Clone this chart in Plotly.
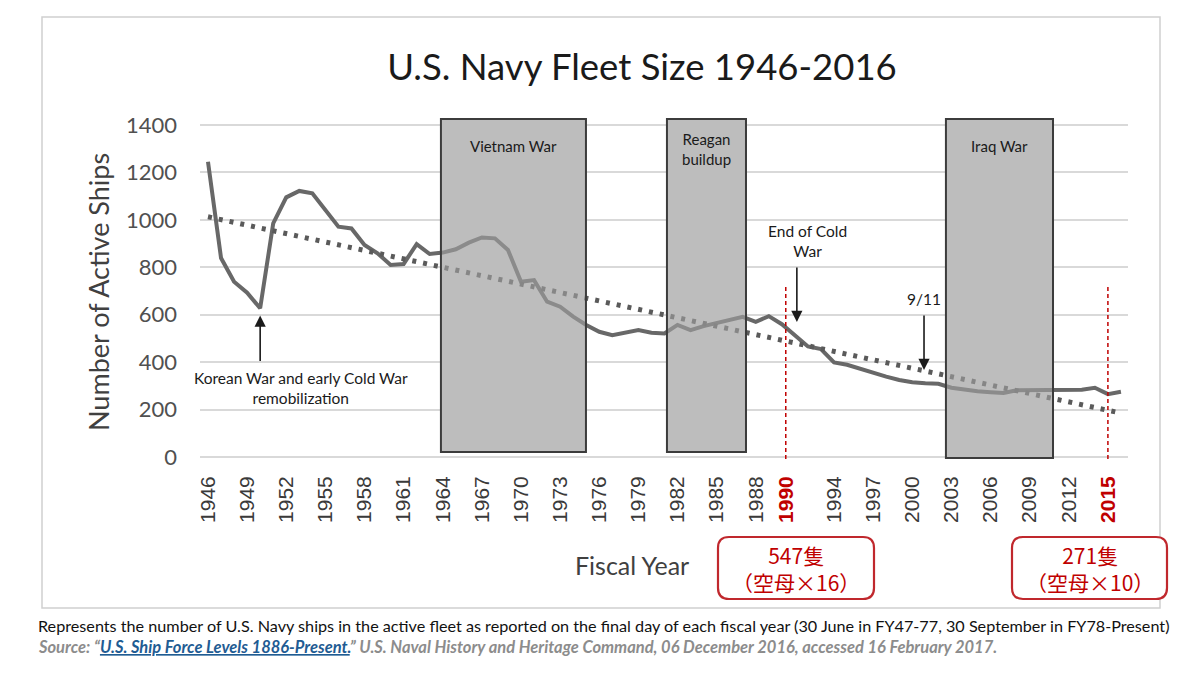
import plotly.graph_objects as go

# ---------------- data ----------------
years = list(range(1946, 2017))
ships = [1245, 839, 739, 693, 627, 985, 1095, 1122, 1112, 1042,
         971, 964, 894, 859, 810, 814, 898, 856, 862, 876,
         904, 926, 922, 873, 739, 746, 655, 634, 592, 557,
         528, 514, 524, 535, 524, 521, 557, 535, 552, 566,
         577, 591, 570, 594, 560, 515, 466, 455, 399, 389,
         371, 353, 339, 325, 315, 311, 309, 292, 284, 277,
         273, 270, 281, 281, 281, 281, 281, 284, 292, 265,
         275]
trend_years = [1946, 2016]
trend_ships = [1013, 185]

tick_years = [1946, 1949, 1952, 1955, 1958, 1961, 1964, 1967, 1970, 1973,
              1976, 1979, 1982, 1985, 1988, 1990.3, 1994, 1997, 2000, 2003,
              2006, 2009, 2012, 2015]
tick_labels = ["1946", "1949", "1952", "1955", "1958", "1961", "1964", "1967",
               "1970", "1973", "1976", "1979", "1982", "1985", "1988", "1990",
               "1994", "1997", "2000", "2003", "2006", "2009", "2012", "2015"]
red_labels = ["1990", "2015"]
red_years = [1990.3, 2015]

period_names = ["Vietnam War", "Reagan<br>buildup", "Iraq War"]
period_start = [1963.86, 1981.19, 2002.58]
period_end = [1974.98, 1987.25, 2010.79]

callout_texts = ["547隻<br>（空母×16）", "271隻<br>（空母×10）"]

# ---------------- layout helpers ----------------
W, H = 1200, 675
ML, MR, MT, MB = 200, 72, 116, 216
PW, PH = W - ML - MR, H - MT - MB


def px_x(px):
    return (px - ML) / PW


def px_y(py):
    return (H - MB - py) / PH


def rounded_path(x0, y0, x1, y1, r):
    X0, X1 = px_x(x0), px_x(x1)
    Y0, Y1 = px_y(y0), px_y(y1)  # Y0 top, Y1 bottom
    rx, ry = r / PW, r / PH
    return (f"M {X0+rx},{Y0} L {X1-rx},{Y0} Q {X1},{Y0} {X1},{Y0-ry} "
            f"L {X1},{Y1+ry} Q {X1},{Y1} {X1-rx},{Y1} "
            f"L {X0+rx},{Y1} Q {X0},{Y1} {X0},{Y1+ry} "
            f"L {X0},{Y0-ry} Q {X0},{Y0} {X0+rx},{Y0} Z")


LINE = "#686868"
RED = "#c00000"
FONT = "Lato"

fig = go.Figure()

fig.add_trace(go.Scatter(x=years, y=ships, mode="lines",
                         line=dict(color=LINE, width=4), hoverinfo="skip",
                         showlegend=False))
fig.add_trace(go.Scatter(x=trend_years, y=trend_ships, mode="lines",
                         line=dict(color="#5a5a5a", width=5, dash="4px,7px"),
                         hoverinfo="skip", showlegend=False))

shapes = []
shapes.append(dict(type="rect", xref="paper", yref="paper",
                   x0=px_x(42), x1=px_x(1160), y0=px_y(608), y1=px_y(17),
                   line=dict(color="#d0d0d0", width=1.5), layer="below"))

annotations = []
for name, s, e in zip(period_names, period_start, period_end):
    bottom = -4 if name == "Iraq War" else 21
    shapes.append(dict(type="rect", xref="x", yref="y", x0=s, x1=e,
                       y0=bottom, y1=1425, fillcolor="white",
                       line=dict(width=0), layer="between"))
    shapes.append(dict(type="rect", xref="x", yref="y", x0=s, x1=e,
                       y0=bottom, y1=1425, fillcolor="rgba(156,156,156,0.67)",
                       line=dict(color="#3c3c3c", width=2), layer="above"))
    ty = 1299 if "<br>" in name else 1311
    annotations.append(dict(x=(s + e) / 2, y=ty, xref="x", yref="y",
                            xanchor="center", yanchor="middle",
                            text=name, showarrow=False,
                            font=dict(family=FONT, size=15, color="#1a1a1a")))

for rx in red_years:
    shapes.append(dict(type="line", xref="x", yref="y", x0=rx, x1=rx,
                       y0=-8, y1=725,
                       line=dict(color=RED, width=1.5, dash="4px,3px"),
                       layer="above"))

for (x0, x1) in [(718, 874), (1012, 1167)]:
    shapes.append(dict(type="path", xref="paper", yref="paper",
                       path=rounded_path(x0, 537, x1, 599, 11),
                       line=dict(color="#c0282d", width=2.2),
                       fillcolor="white", layer="above"))
for txt, cx in zip(callout_texts, [796, 1090]):
    annotations.append(dict(x=px_x(cx), y=px_y(568), xref="paper", yref="paper",
                            xanchor="center", yanchor="middle",
                            text=txt, showarrow=False, align="center",
                            font=dict(family="Noto Sans CJK JP", size=21,
                                      color=RED)))

arrow_font = dict(family=FONT, size=15.5, color="#1a1a1a")
annotations.append(dict(x=1950, y=597, xref="x", yref="y", text="",
                        showarrow=True, ax=0, ay=47, arrowhead=2,
                        arrowsize=1.4, arrowwidth=1.6, arrowcolor="#1a1a1a"))
annotations.append(dict(x=1953.1, y=289, xref="x", yref="y",
                        xanchor="center", yanchor="middle",
                        text="Korean War and early Cold War<br>remobilization",
                        showarrow=False, font=arrow_font, align="center"))
annotations.append(dict(x=1991.15, y=569, xref="x", yref="y", text="",
                        showarrow=True, ax=0, ay=-56, arrowhead=2,
                        arrowsize=1.4, arrowwidth=1.6, arrowcolor="#1a1a1a"))
annotations.append(dict(x=1992.0, y=913, xref="x", yref="y",
                        xanchor="center", yanchor="middle",
                        text="End of Cold<br>War", showarrow=False,
                        font=arrow_font, align="center"))
annotations.append(dict(x=2000.9, y=367, xref="x", yref="y", text="",
                        showarrow=True, ax=0, ay=-56, arrowhead=2,
                        arrowsize=1.4, arrowwidth=1.6, arrowcolor="#1a1a1a"))
annotations.append(dict(x=2000.9, y=666, xref="x", yref="y",
                        xanchor="center", yanchor="middle",
                        text="9/11", showarrow=False, font=arrow_font))

annotations.append(dict(x=px_x(98), y=px_y(292), xref="paper", yref="paper",
                        xanchor="center", yanchor="middle",
                        text="Number of Active Ships", textangle=-90,
                        showarrow=False,
                        font=dict(family=FONT, size=27, color="#404040")))
annotations.append(dict(x=px_x(632), y=px_y(565), xref="paper", yref="paper",
                        xanchor="center", yanchor="middle",
                        text="Fiscal Year", showarrow=False,
                        font=dict(family=FONT, size=25, color="#404040")))

annotations.append(dict(x=px_x(36), y=px_y(625), xref="paper", yref="paper",
                        xanchor="left", yanchor="middle",
                        text=("Represents the number of U.S. Navy ships in the active fleet as "
                              "reported on the final day of each fiscal year (30 June in FY47-77, "
                              "30 September in FY78-Present)"),
                        showarrow=False,
                        font=dict(family=FONT, size=16.2, color="#111111")))
annotations.append(dict(x=px_x(36), y=px_y(647), xref="paper", yref="paper",
                        xanchor="left", yanchor="middle",
                        text=("<b><i>Source: “<span style='color:#1f5c93'><u>U.S. Ship Force "
                              "Levels 1886-Present.</u></span>” U.S. Naval History and Heritage "
                              "Command, 06 December 2016, accessed 16 February 2017.</i></b>"),
                        showarrow=False,
                        font=dict(family=FONT, size=16.5, color="#8c8c8c")))

ticktext = []
for t in tick_labels:
    if t in red_labels:
        ticktext.append(f"<b><span style='color:{RED}'>{t}</span></b>")
    else:
        ticktext.append(t)

fig.update_layout(
    width=W, height=H,
    margin=dict(l=ML, r=MR, t=MT, b=MB, autoexpand=False),
    paper_bgcolor="white", plot_bgcolor="white",
    title=dict(text="U.S. Navy Fleet Size 1946-2016", x=px_x(642), y=1 - 67 / H,
               xref="paper", yref="container", xanchor="center", yanchor="middle",
               font=dict(family=FONT, size=36.5, color="#1a1a1a")),
    shapes=shapes, annotations=annotations, showlegend=False,
)
fig.update_xaxes(range=[1945.387, 2016.54], tickvals=tick_years, ticktext=ticktext,
                 tickangle=-90, showgrid=False, zeroline=False, showline=False,
                 ticks="", ticklabelstandoff=12,
                 tickfont=dict(family="Liberation Sans", size=21, color="#3a3a3a"))
fig.update_yaxes(range=[-8.43, 1438], tickvals=[0, 200, 400, 600, 800, 1000, 1200, 1400],
                 showgrid=True, gridcolor="#d9d9d9", gridwidth=2, zeroline=False,
                 showline=False, ticks="", ticklabelstandoff=22,
                 tickfont=dict(family=FONT, size=22, color="#505050"))

fig.write_html("out.html", config={"displayModeBar": False},
               post_script="document.body.style.margin='0px';")
